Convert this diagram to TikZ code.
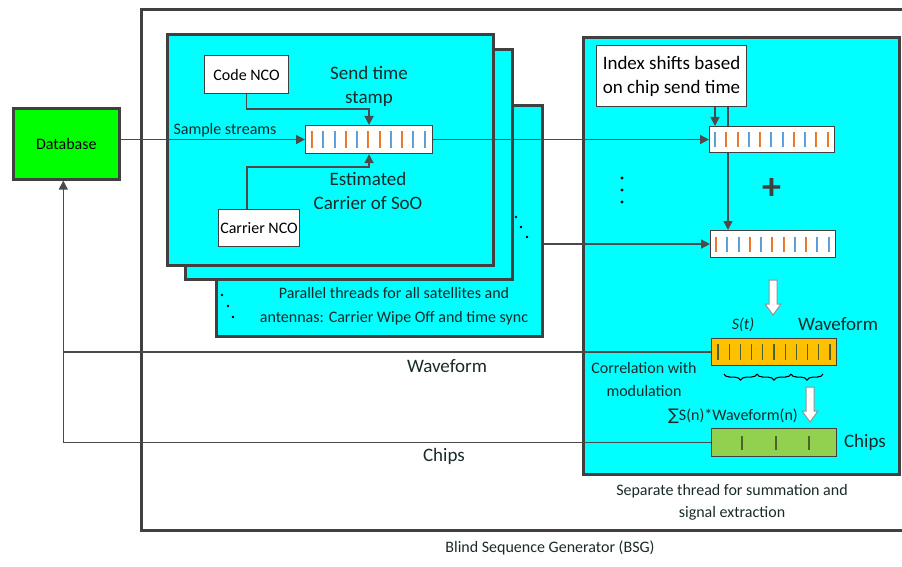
\documentclass[tikz,border=0pt]{standalone}
\usepackage{fontspec}
\setmainfont{Carlito}
\newfontfamily\djv{DejaVu Sans}
\usetikzlibrary{arrows.meta,calc,decorations.pathreplacing}
\definecolor{cy}{HTML}{00FFFF}
\definecolor{dbg}{HTML}{00FF00}
\definecolor{edge}{HTML}{404040}
\definecolor{ln}{HTML}{4A4A4A}
\definecolor{orb}{HTML}{FFC000}
\definecolor{grb}{HTML}{92D050}
\definecolor{tk}{HTML}{4F6228}
\definecolor{tb}{HTML}{5B9BD5}
\definecolor{tor}{HTML}{ED7D31}
\definecolor{txt}{HTML}{1A2A2A}
\begin{document}
\begin{tikzpicture}[x=1pt,y=-1pt,
  frame/.style={draw=edge,line width=2.6pt,anchor=north west,inner sep=0pt},
  thread/.style={frame,fill=cy},
  wbox/.style={draw=edge,line width=1.1pt,fill=white,anchor=north west,inner sep=0pt,text=black},
  small/.style={font=\fontsize{16}{24}\selectfont,text=txt,inner sep=0pt},
  big/.style={font=\fontsize{19}{24}\selectfont,text=txt,inner sep=0pt},
  conn/.style={draw=ln,line width=1.6pt},
  ret/.style={draw=ln,line width=1.3pt},
  arr/.style={-{Triangle[length=9pt,width=9pt]}},
  hollow/.style={draw=gray!85,line width=1pt,fill=white},
  dot/.style={fill=black}]
\useasboundingbox (0,0) rectangle (902,567);
\clip (0,0) rectangle (902,567);

% outer BSG frame
\node[frame,minimum width=790,minimum height=521] (bsg) at (140,8) {};
% parallel thread boxes
\node[thread,minimum width=326,minimum height=231] (box3) at (215,104) {};
\node[thread,minimum width=327,minimum height=230] (box2) at (184,48) {};
\node[thread,minimum width=326,minimum height=231] (box1) at (166,33) {};
% summation box
\node[thread,minimum width=316,minimum height=437] (rbox) at (582,36) {};
% database
\node[frame,fill=dbg,minimum width=106,minimum height=71,font=\fontsize{16}{18}\selectfont] (db) at (12,107) {Database};

% NCOs
\node[wbox,minimum width=84,minimum height=38,font=\fontsize{16}{18}\selectfont] (cnco) at (204,55) {Code NCO};
\node[wbox,minimum width=81,minimum height=37,font=\fontsize{16}{18}\selectfont] (carr) at (218,209) {Carrier NCO};
% index box
\node[wbox,minimum width=150,minimum height=61,align=center,font=\fontsize{19}{24}\selectfont] (idx) at (596,45) {Index shifts based\\on chip send time};

% buffers
\node[wbox,minimum width=127,minimum height=28] (b1) at (305,125) {};
\node[wbox,minimum width=125,minimum height=26] (b2) at (709,126) {};
\node[wbox,minimum width=125,minimum height=27] (b3) at (710,230) {};
\node[wbox,fill=orb,minimum width=125,minimum height=27] (ob) at (711,338) {};
\node[wbox,fill=grb,minimum width=125,minimum height=28] (gb) at (711,428) {};

% ticks
\foreach \b/\o in {b1/7,b2/6,b3/6}{
  \foreach \i in {0,...,10}{
    \draw[tb,line width=0.8pt] ($(\b.north west)+(\o+\i*11.25-0.4,6.5)$) -- ($(\b.south west)+(\o+\i*11.25-0.4,-6.5)$);
    \draw[tor,line width=0.8pt] ($(\b.north west)+(\o+\i*11.25+0.4,6.5)$) -- ($(\b.south west)+(\o+\i*11.25+0.4,-6.5)$);
  }}
\foreach \i in {0,...,10}{
  \draw[tk,line width=1.2pt] ($(ob.north west)+(7+\i*11.2,6)$) -- ($(ob.south west)+(7+\i*11.2,-6)$);}
\foreach \o in {31,65,98}{
  \draw[tk,line width=1.2pt] ($(gb.north west)+(\o,8)$) -- ($(gb.south west)+(\o,-7)$);}

% braces
\foreach \a/\e in {13/46,46/80,80/112}{
  \draw[black,line width=1.1pt,decorate,decoration={brace,mirror,amplitude=6pt}]
    ($(ob.south west)+(\a,8)$) -- ($(ob.south west)+(\e,8)$);}

% connectors
\draw[conn,arr] (db.east |- b1.west) -- (b1.west);
\draw[conn,arr] (cnco.south) |- ($(b1.north)+(0,-16)$) -- (b1.north);
\coordinate (cst) at ($(carr.north west)+(29,0)$);
\draw[conn,arr] (cst) |- ($(b1.south)+(0,13)$) -- (b1.south);
\draw[conn,arr] (b1.east) -- (b2.west);
\draw[conn,arr] (box3.east |- b3.west) -- (b3.west);
\coordinate (ia) at ($(b2.north west)+(6,0)$);
\coordinate (ib) at ($(b2.north west)+(19,0)$);
\draw[conn,arr] (idx.south -| ia) -- (ia);
\draw[conn] (idx.south -| ib) -- (ib);
\draw[conn,arr] (b2.south -| ib) -- (b3.north -| ib);
\coordinate (dbin) at ($(db.south)+(-3,0)$);
\draw[ret,arr] (gb.west) -| (dbin);
\draw[ret] (ob.west) -- (ob.west -| dbin);

% hollow arrows
\draw[hollow] (769,280) -- (777,280) -- (777,304) -- (781,304) -- (773,315) -- (765,304) -- (769,304) -- cycle;
\draw[hollow] (806,387) -- (814,387) -- (814,411) -- (818,411) -- (810,422) -- (802,411) -- (806,411) -- cycle;

% plus
\node[font=\fontsize{38}{38}\selectfont\bfseries,text=edge,inner sep=0pt] (plus) at (772,189) {+};

% dots
\fill[dot] (622,178) circle (1.6pt) (622,190) circle (1.6pt) (622,202) circle (1.6pt);
\fill[dot] (516,217) circle (1.4pt) (521,227) circle (1.4pt) (527,237) circle (1.4pt);
\fill[dot] (222,295) circle (1.4pt) (228,306) circle (1.4pt) (233,317) circle (1.4pt);

% labels
\node[big,align=center] (lsts) at (369,86) {Send time\\stamp};
\node[big,align=center] (lest) at (368,191) {Estimated\\Carrier of SoO};
\node[small] (lss) at (225,130) {Sample streams};
\node[small,align=center] (lpar) at (394,306) {Parallel threads for all satellites and\\antennas: Carrier Wipe Off and time sync};
\node[big] (lwf1) at (447,366) {Waveform};
\node[big] (lch1) at (444,456) {Chips};
\node[small,font=\fontsize{16}{24}\selectfont\itshape] (lst) at (743,325) {S(t)};
\node[big] (lwf2) at (838,324) {Waveform};
\node[small,align=center,font=\fontsize{16}{23}\selectfont] (lcor) at (644,380) {Correlation with\\modulation};
\node[small] (lsum) at (733,416) {{\djv\fontsize{16}{16}\selectfont ∑}S(n)*Waveform(n)};
\node[big] (lch2) at (865,442) {Chips};
\node[small,align=center,font=\fontsize{16}{22}\selectfont] (lsep) at (732,502) {Separate thread for summation and\\signal extraction};
\node[small] (lbsg) at (550,548) {Blind Sequence Generator (BSG)};
\end{tikzpicture}
\end{document}
